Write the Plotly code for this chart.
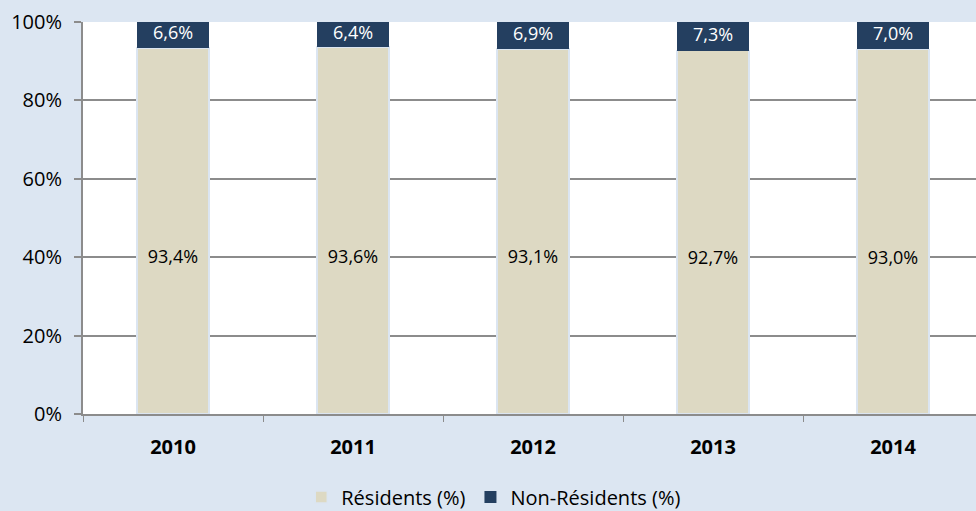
import plotly.graph_objects as go

years = ["2010", "2011", "2012", "2013", "2014"]
residents = [93.4, 93.6, 93.1, 92.7, 93.0]
non_residents = [6.6, 6.4, 6.9, 7.3, 7.0]
y_ticks = [0, 20, 40, 60, 80, 100]
y_tick_labels = ["0%", "20%", "40%", "60%", "80%", "100%"]

BEIGE = "#ddd9c3"
NAVY = "#243f60"
BG = "#dce6f2"
GRID = "#8c8c8c"
FONT = "Open Sans"

def fmt(v):
    return f"{v:.1f}".replace(".", ",") + "%"

fig = go.Figure()
fig.add_bar(x=years, y=residents, name="Résidents (%)",
            marker=dict(color=BEIGE, line=dict(color="#dbe5f1", width=1.5)),
            width=0.4, hoverinfo="skip")
fig.add_bar(x=years, y=non_residents, name="Non-Résidents (%)",
            marker=dict(color=NAVY, line=dict(color=NAVY, width=0)),
            width=0.4, hoverinfo="skip")

RES_LABEL_FRAC = 0.425
fig.add_scatter(x=years, y=[r * RES_LABEL_FRAC for r in residents], mode="text",
                text=[fmt(r) for r in residents], showlegend=False, hoverinfo="skip",
                textfont=dict(family=FONT, size=18, color="#000000"))
fig.add_scatter(x=years, y=[r + n / 2 for r, n in zip(residents, non_residents)], mode="text",
                text=[fmt(n) for n in non_residents], showlegend=False, hoverinfo="skip",
                textfont=dict(family=FONT, size=18, color="#ffffff"))

fig.update_layout(
    width=976, height=511,
    barmode="stack",
    paper_bgcolor=BG, plot_bgcolor="#ffffff",
    margin=dict(l=83, r=0, t=22, b=97, autoexpand=False),
    font=dict(family=FONT, size=18, color="#000000"),
    showlegend=True,
    legend=dict(orientation="h", x=0.46, xanchor="center", y=-0.212, yanchor="middle",
                traceorder="normal", font=dict(family=FONT, size=20),
                bgcolor="rgba(0,0,0,0)"),
    bargap=0.6,
)
fig.update_xaxes(type="category", range=[-0.5, 4.461], showgrid=False,
                 showline=True, linecolor=GRID, linewidth=2,
                 ticks="outside", tickson="boundaries", ticklen=6, tickcolor=GRID, tickwidth=1,
                 ticklabelstandoff=14,
                 tickfont=dict(family=FONT, size=20, color="#000000", weight="bold"))
fig.update_yaxes(range=[0, 100], tickmode="array", tickvals=y_ticks, ticktext=y_tick_labels,
                 showgrid=True, gridcolor=GRID, gridwidth=2,
                 showline=True, linecolor=GRID, linewidth=2, ticks="outside", ticklen=7, tickcolor=GRID, tickwidth=2,
                 ticklabelstandoff=8,
                 zeroline=False, tickfont=dict(family=FONT, size=20, color="#000000"))

fig.write_html("out.html", config={"displayModeBar": False},
               post_script="document.body.style.margin='0';document.body.style.padding='0';")
